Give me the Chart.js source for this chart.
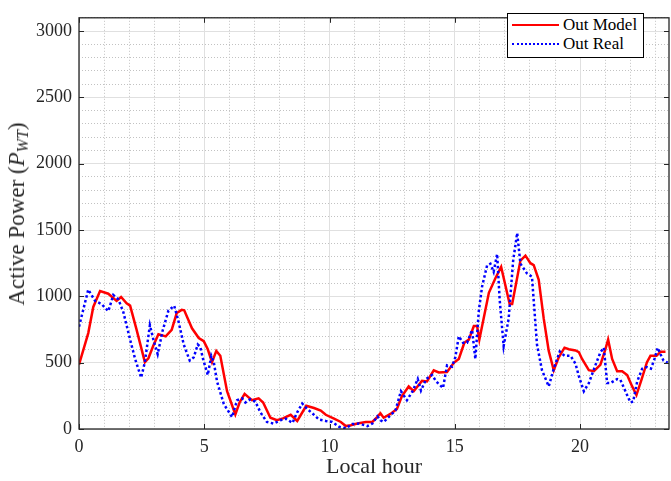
<!DOCTYPE html>
<html>
<head>
<meta charset="utf-8">
<script src="https://cdn.jsdelivr.net/npm/chart.js@4"></script>
<style>
    body { margin: 0; background: #fff; }
    #wrap { position: relative; width: 671px; height: 481px; }
    #ytitle {
        position: absolute; left: 17px; top: 214px;
        transform: translate(-50%, -50%) rotate(-90deg);
        white-space: nowrap;
        font: 23px "Liberation Serif", serif; color: #262626;
    }
    #ytitle sub { font-size: 16px; vertical-align: -4px; line-height: 0; }
    #legend {
        position: absolute; left: 507px; top: 13px; width: 135px; height: 43px;
        border: 1px solid #000; background: #fff;
        font: 17px "Liberation Serif", serif; color: #000;
    }
    .row { position: absolute; left: 4px; height: 20px; display: flex; align-items: center; }
    .row .ln { width: 47px; margin-right: 4px; }
</style>
</head>
<body>
<div id="wrap">
    <canvas id="chart" width="671" height="481"></canvas>
    <div id="ytitle">Active Power (<i>P</i><sub><i>WT</i></sub>)</div>
    <div id="legend">
        <div class="row" style="top:1px"><span class="ln" style="border-top:2.5px solid #ff0000"></span>Out Model</div>
        <div class="row" style="top:20px"><span class="ln" style="border-top:2.5px dotted #0000ff"></span>Out Real</div>
    </div>
</div>
<script>
/* Active power: model vs real, by local hour */

const X_MAX = 23.55;
const Y_MAX = 3100;
const X_MINOR_STEP = 1;
const Y_MINOR_STEP = 100;
const xTickLabels = [0, 5, 10, 15, 20];
const yTickLabels = [0, 500, 1000, 1500, 2000, 2500, 3000];

// --- Data ---

const modelHours = [0, 0.37, 0.57, 0.84, 1.17, 1.5, 1.68, 1.9, 2.04, 2.3, 2.63, 2.77, 2.96, 3.17, 3.46, 3.7, 3.9, 4.1, 4.2,
    4.51, 4.78, 4.98, 5.14, 5.31, 5.48, 5.64, 5.91, 6.24, 6.41, 6.61, 6.9, 7.17, 7.35, 7.64, 7.9, 8.14, 8.45, 8.71,
    9.07, 9.38, 9.65, 9.85, 10.18, 10.45, 10.65, 10.85, 11.11, 11.45, 11.71, 11.9, 12.03, 12.16, 12.43, 12.69, 12.89,
    13.16, 13.36, 13.69, 13.89, 14.16, 14.36, 14.69, 14.96, 15.16, 15.38, 15.56, 15.76, 15.89, 15.98, 16.36, 16.62,
    16.85, 17.19, 17.29, 17.62, 17.82, 18.02, 18.15, 18.35, 18.55, 18.75, 18.95, 19.15, 19.38, 19.55, 19.82, 19.95,
    20.08, 20.35, 20.55, 20.81, 21.01, 21.12, 21.28, 21.48, 21.68, 21.88, 22.08, 22.25, 22.45, 22.67, 22.81, 23.05,
    23.21, 23.41];
const modelPower = [485, 723, 920, 1040, 1020, 966, 995, 947, 930, 747, 504, 533, 625, 715, 698, 747, 874, 898, 895,
    759, 686, 662, 601, 504, 589, 552, 285, 110, 200, 265, 217, 231, 200, 85, 66, 80, 107, 61,
    175, 158, 139, 107, 78, 53, 22, 29, 41, 53, 53, 90, 119, 85, 114, 151, 248,
    321, 285, 363, 358, 443, 426, 430, 499, 528, 650, 674, 776, 776, 674, 1027, 1137,
    1222, 942, 942, 1270, 1307, 1250, 1236, 1124, 832, 589, 443, 540, 613, 601, 592, 580,
    528, 443, 436, 484, 601, 674, 528, 436, 436, 407, 321, 256, 370, 504, 552, 552,
    582, 582];

const realHours = [0, 0.37, 0.64, 0.9, 1.17, 1.37, 1.57, 1.77, 2.04, 2.24, 2.48, 2.63, 2.83, 2.97, 3.14, 3.33, 3.57, 3.8,
    3.96, 4.18, 4.42, 4.58, 4.74, 4.84, 4.95, 5.14, 5.28, 5.38, 5.51, 5.78, 6.11, 6.31, 6.51, 6.64, 6.84, 7.04, 7.24,
    7.5, 7.77, 8.04, 8.25, 8.52, 8.71, 8.91, 9.11, 9.31, 9.58, 9.85, 10.11, 10.38, 10.65, 10.91, 11.18, 11.51, 11.71,
    11.91, 12.03, 12.16, 12.36, 12.63, 12.85, 13.09, 13.33, 13.52, 13.65, 13.86, 14.09, 14.26, 14.53, 14.69, 14.89,
    15.02, 15.16, 15.33, 15.49, 15.69, 15.82, 15.96, 16.09, 16.29, 16.42, 16.55, 16.69, 16.79, 16.95, 17.15, 17.33,
    17.49, 17.62, 17.88, 18.08, 18.28, 18.48, 18.75, 18.95, 19.19, 19.38, 19.62, 19.82, 19.95, 20.15, 20.35, 20.61,
    20.81, 20.95, 21.08, 21.21, 21.48, 21.61, 21.81, 22.01, 22.12, 22.28, 22.48, 22.67, 22.83, 22.97, 23.1, 23.21,
    23.33, 23.5];
const realPower = [771, 1051, 966, 942, 888, 1010, 978, 881, 674, 528, 387, 504, 783, 674, 564, 735, 893, 929,
    820, 637, 516, 540, 637, 620, 528, 407, 552, 504, 358, 188, 90, 217, 231, 200, 224, 207, 126,
    53, 41, 66, 78, 46, 126, 192, 151, 119, 71, 61, 53, 17, 5, 37, 41, 22, 41,
    95, 66, 53, 90, 139, 285, 217, 290, 377, 290, 377, 407, 358, 309, 480, 470,
    540, 699, 650, 650, 747, 528, 893, 1075, 1234, 1246, 1185, 1319, 978, 625, 832, 1270,
    1477, 1246, 1173, 1148, 637, 443, 321, 455, 584, 552, 552, 491, 400, 285, 346, 480,
    577, 613, 346, 346, 377, 370, 285, 200, 207, 358, 455, 467, 455, 528, 613, 564,
    516, 500];

// --- Helpers ---

function toPoints(xs, ys) {
    return xs.map((x, i) => ({ x, y: ys[i] }));
}

function stepTicks(max, step, skip) {
    const out = [];
    for (let v = 0; v <= max + 1e-9; v += step) {
        const val = Math.round(v * 100) / 100;
        if (!skip.includes(val)) out.push({ value: val });
    }
    return out;
}

const serif = '"Liberation Serif", "Times New Roman", serif';

// inward tick marks and the box round the axes, MATLAB style
const axesBox = {
    id: 'axesBox',
    afterDraw(chart) {
        const { ctx, chartArea: a, scales: { x, y } } = chart;
        const len = 5;
        ctx.save();
        ctx.strokeStyle = '#262626';
        ctx.lineWidth = 1;
        ctx.beginPath();
        xTickLabels.forEach(v => {
            const px = Math.round(x.getPixelForValue(v)) + 0.5;
            ctx.moveTo(px, a.bottom); ctx.lineTo(px, a.bottom - len);
            ctx.moveTo(px, a.top); ctx.lineTo(px, a.top + len);
        });
        yTickLabels.forEach(v => {
            const py = Math.round(y.getPixelForValue(v)) + 0.5;
            ctx.moveTo(a.left, py); ctx.lineTo(a.left + len, py);
            ctx.moveTo(a.right, py); ctx.lineTo(a.right - len, py);
        });
        ctx.stroke();
        ctx.lineWidth = 1.3;
        ctx.strokeRect(a.left, a.top, a.right - a.left, a.bottom - a.top);
        ctx.restore();
    }
};

// --- Chart ---

const ctx = document.getElementById('chart').getContext('2d');
new Chart(ctx, {
    type: 'line',
    data: {
        datasets: [
            {
                label: 'Out Model',
                data: toPoints(modelHours, modelPower),
                borderColor: '#ff0000',
                borderWidth: 2.5,
                pointRadius: 0,
                tension: 0,
                order: 1,
            },
            {
                label: 'Out Real',
                data: toPoints(realHours, realPower),
                borderColor: '#0000ff',
                borderWidth: 2.5,
                borderDash: [2.5, 2.5],
                pointRadius: 0,
                tension: 0,
                order: 0,
            }
        ]
    },
    options: {
        responsive: false,
        animation: false,
        layout: { padding: { top: 5, right: 2, bottom: 0, left: 0 } },
        plugins: {
            legend: { display: false },
            tooltip: { enabled: false },
        },
        scales: {
            xMinor: {
                type: 'linear', axis: 'x', position: 'bottom',
                min: 0, max: X_MAX,
                ticks: { display: false },
                afterBuildTicks: s => { s.ticks = stepTicks(X_MAX, X_MINOR_STEP, xTickLabels); },
                grid: { drawTicks: false, color: '#c2c2c2' },
                border: { display: false, dash: [1, 2] },
                afterFit: s => { s.height = 0; },
            },
            yMinor: {
                type: 'linear', axis: 'y', position: 'left',
                min: 0, max: Y_MAX,
                ticks: { display: false },
                afterBuildTicks: s => { s.ticks = stepTicks(Y_MAX, Y_MINOR_STEP, yTickLabels); },
                grid: { drawTicks: false, color: '#c2c2c2' },
                border: { display: false, dash: [1, 2] },
                afterFit: s => { s.width = 0; },
            },
            x: {
                type: 'linear', position: 'bottom',
                min: 0, max: X_MAX,
                afterBuildTicks: s => { s.ticks = xTickLabels.map(v => ({ value: v })); },
                ticks: {
                    autoSkip: false, padding: 7, maxRotation: 0,
                    color: '#262626', font: { family: serif, size: 18 },
                    callback: v => String(v),
                },
                grid: { drawTicks: false, color: '#e0e0e0' },
                border: { display: false },
                title: {
                    display: true, text: 'Local hour', color: '#262626',
                    font: { family: serif, size: 22 },
                    padding: { top: 0, bottom: 1 },
                },
                afterFit: s => { s.height = 52; },
            },
            y: {
                type: 'linear', position: 'left',
                min: 0, max: Y_MAX,
                afterBuildTicks: s => { s.ticks = yTickLabels.map(v => ({ value: v })); },
                ticks: {
                    autoSkip: false, padding: 7,
                    color: '#262626', font: { family: serif, size: 18 },
                    callback: v => String(v),
                },
                grid: { drawTicks: false, color: '#e0e0e0' },
                border: { display: false },
                afterFit: s => { s.width = 79; },
            }
        }
    },
    plugins: [axesBox]
});
</script>
</body>
</html>
